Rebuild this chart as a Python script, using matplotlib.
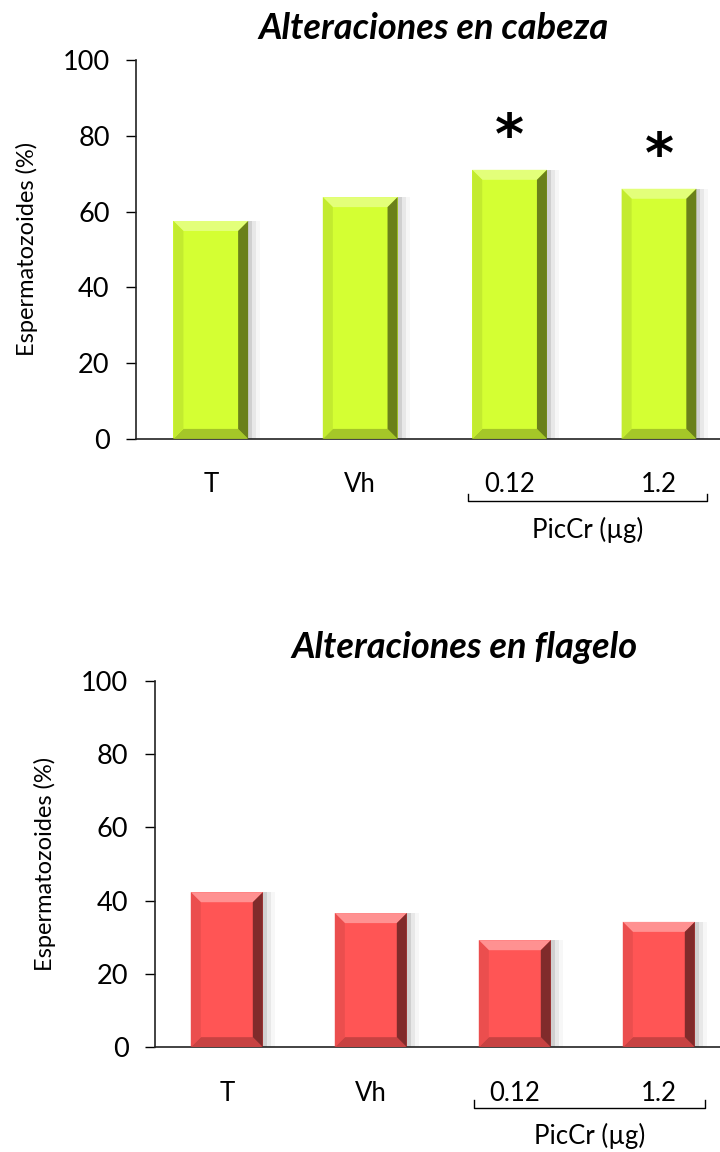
import numpy as np
import matplotlib.pyplot as plt
from matplotlib.patches import Polygon, Rectangle
from matplotlib.transforms import blended_transform_factory

plt.rcParams["font.family"] = ["Lato", "DejaVu Sans"]

categories = ["T", "Vh", "0.12", "1.2"]
head_values = [57.5, 63.8, 71.0, 66.0]
tail_values = [42.3, 36.6, 29.2, 34.2]
head_stars = [False, False, True, True]
yticks = [0, 20, 40, 60, 80, 100]


def shade(color, f):
    c = np.array(plt.matplotlib.colors.to_rgb(color))
    if f > 0:
        return tuple(c + (1 - c) * f)
    return tuple(c * (1 + f))


def bevel_bars(ax, values, color, width=0.5):
    x = np.arange(len(values))
    # px -> data units for bevel size
    inv = ax.transData.inverted()
    p0 = inv.transform((0, 0))
    bx, by = inv.transform((10, 10)) - p0
    sx = (inv.transform((4, 0)) - p0)[0]
    for xi, v in zip(x, values):
        l, r = xi - width / 2, xi + width / 2
        # soft shadow to the right
        for k, a in enumerate([0.10, 0.06, 0.03]):
            ax.add_patch(Rectangle((l + sx * (k + 1), 0), width, v,
                                   color="black", alpha=a, lw=0, zorder=1))
        ax.add_patch(Rectangle((l, 0), width, v, facecolor=color, lw=0, zorder=2))
        # top bevel
        ax.add_patch(Polygon([(l, v), (r, v), (r - bx, v - by), (l + bx, v - by)],
                             facecolor=shade(color, 0.35), lw=0, zorder=3))
        # bottom bevel
        ax.add_patch(Polygon([(l, 0), (r, 0), (r - bx, by), (l + bx, by)],
                             facecolor=shade(color, -0.22), lw=0, zorder=3))
        # left bevel
        ax.add_patch(Polygon([(l, 0), (l + bx, by), (l + bx, v - by), (l, v)],
                             facecolor=shade(color, -0.08), lw=0, zorder=3))
        # right bevel
        ax.add_patch(Polygon([(r, 0), (r - bx, by), (r - bx, v - by), (r, v)],
                             facecolor=shade(color, -0.5), lw=0, zorder=3))
    return x


def setup(ax, title, title_x, title_y):
    ax.set_xlim(-0.5, 3.5)
    ax.set_ylim(0, 100)
    ax.set_yticks(yticks)
    ax.tick_params(axis="y", labelsize=19.5, length=7, width=1, direction="out", pad=12)
    ax.tick_params(axis="x", length=0, labelsize=18.5, pad=24)
    ax.set_xticks(range(len(categories)))
    ax.set_xticklabels(categories)
    for s in ["top", "right"]:
        ax.spines[s].set_visible(False)
    for s in ["left", "bottom"]:
        ax.spines[s].set_color("#222222")
        ax.spines[s].set_linewidth(1.2)
    ax.set_ylabel("Espermatozoides (%)", fontsize=17, labelpad=18)
    ax.text(title_x, title_y, title, transform=ax.transAxes, ha="center", va="center",
            fontsize=26, fontweight="bold", fontstyle="italic")
    tr = blended_transform_factory(ax.transData, ax.transAxes)
    yb = -0.165
    ax.plot([1.72, 1.72, 3.32, 3.32], [yb + 0.02, yb, yb, yb + 0.02],
            color="black", lw=1, transform=tr, clip_on=False)
    ax.text(2.52, yb - 0.042, "PicCr (µg)", transform=tr, ha="center", va="top",
            fontsize=18.5)


fig = plt.figure(figsize=(7.2, 11.52), dpi=100)

ax1 = fig.add_axes([0.189, 0.619, 0.83, 0.329])
setup(ax1, "Alteraciones en cabeza", 0.497, 1.084)
x1 = bevel_bars(ax1, head_values, "#D4FF33")
for xi, v, s in zip(x1, head_values, head_stars):
    if s:
        ax1.text(xi, v + 8.5, "*", ha="center", va="center", fontsize=40,
                 fontweight="bold", family="DejaVu Sans")

ax2 = fig.add_axes([0.215, 0.091, 0.80, 0.318])
setup(ax2, "Alteraciones en flagelo", 0.538, 1.09)
bevel_bars(ax2, tail_values, "#FF5555")

fig.savefig("out.png", dpi=100)
